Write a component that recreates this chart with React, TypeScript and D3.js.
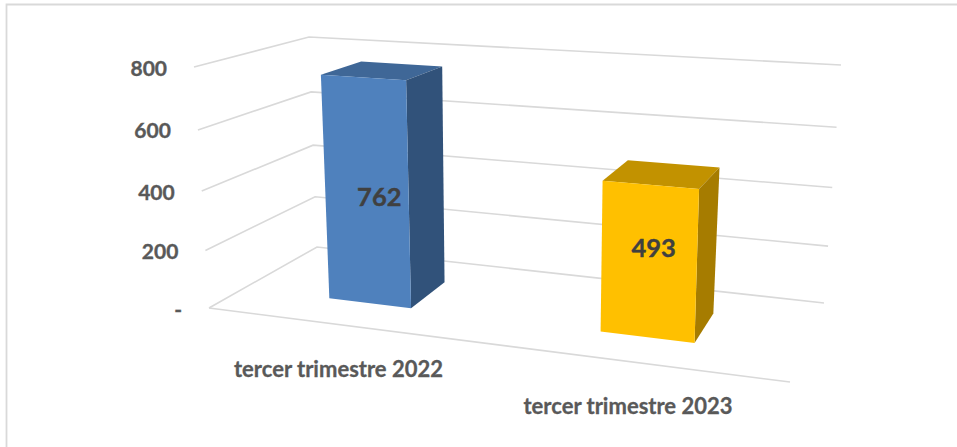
import React from "react";
import * as d3 from "d3";

const categories = ["tercer trimestre 2022", "tercer trimestre 2023"];
const seriesValues = [762, 493];
const tickValues = [0, 200, 400, 600, 800];
const tickLabels = ["-", "200", "400", "600", "800"];
const barFront = ["#4F81BD", "#FFC000"];
const barTop = ["#3F6797", "#C29200"];
const barSide = ["#31527A", "#A67C00"];

const W = 957, H = 447;
type P = [number, number];
const floorBox: P[] = [[209, 308], [790, 382], [824, 303], [317, 247]]; // front-left, front-right, back-right, back-left
const ceilBox: P[] = [[194, 67], [800, 109], [841, 65], [309, 37]];

const mix = (a: P, b: P, k: number): P => [a[0] + (b[0] - a[0]) * k, a[1] + (b[1] - a[1]) * k];
const warp = (t: number, a: number) => (a * t) / (a * t + 1 - t);
const valueScale = d3.scaleLinear().domain([0, 800]).range([0, 1]);

function project(u: number, d: number, v: number): P {
  const U = warp(u, 0.87);
  const T = warp(valueScale(v), 0.942);
  const low = mix(mix(floorBox[0], floorBox[1], U), mix(floorBox[3], floorBox[2], U), d);
  const high = mix(mix(ceilBox[0], ceilBox[1], U), mix(ceilBox[3], ceilBox[2], U), d);
  return mix(low, high, T);
}

const band = d3.scaleBand<string>().domain(categories).range([0, 1]).paddingInner(0.684).paddingOuter(0.342);
const D0 = 0.33, D1 = 0.72;
const labelAnchor = [330, 250];
const poly = (pts: P[]) => d3.line()(pts) + "Z";
const FONT = "Lato, 'Open Sans', sans-serif";

export default function App() {
  return (
    <svg width={W} height={H} style={{ position: "absolute", left: 0, top: 0, background: "#fff" }}>
      <path d={`M6.5,${H}V4.5H${W}`} fill="none" stroke="#D9D9D9" strokeWidth={1.8} />
      {tickValues.map((v, i) => {
        const a = project(0, 0, v), b = project(0, 1, v), c = project(1, 1, v);
        return (
          <g key={v}>
            <path d={d3.line()([a, b, c])!} fill="none" stroke="#D9D9D9" strokeWidth={1.6} />
            <text x={a[0] - 27} y={a[1] + 8.5} textAnchor="end" fontFamily={FONT} fontWeight={700} fontSize={21} fill="#595959" stroke="#595959" strokeWidth={0.35}>
              {tickLabels[i]}
            </text>
          </g>
        );
      })}
      <path d={d3.line()([project(0, 0, 0), project(1, 0, 0)])!} fill="none" stroke="#D9D9D9" strokeWidth={1.6} />
      {categories.map((c, i) => {
        const u0 = band(c)!, u1 = u0 + band.bandwidth(), v = seriesValues[i];
        const uMid = (u0 + u1) / 2;
        const lab = project(uMid, (D0 + D1) / 2, labelAnchor[i]);
        return (
          <g key={c}>
            <path d={poly([project(u0, D0, v), project(u1, D0, v), project(u1, D1, v), project(u0, D1, v)])} fill={barTop[i]} />
            <path d={poly([project(u1, D0, 0), project(u1, D1, 0), project(u1, D1, v), project(u1, D0, v)])} fill={barSide[i]} />
            <path d={poly([project(u0, D0, 0), project(u1, D0, 0), project(u1, D0, v), project(u0, D0, v)])} fill={barFront[i]} />
            <text x={lab[0] - 6} y={lab[1] + 8} textAnchor="middle" fontFamily={FONT} fontWeight={700} fontSize={25.5} fill="#404040" stroke="#404040" strokeWidth={0.4}>
              {v}
            </text>
          </g>
        );
      })}
      <text x={338.5} y={377} textAnchor="middle" fontFamily={FONT} fontWeight={700} fontSize={22} fill="#595959" stroke="#595959" strokeWidth={0.3}>{categories[0]}</text>
      <text x={628} y={414} textAnchor="middle" fontFamily={FONT} fontWeight={700} fontSize={22} fill="#595959" stroke="#595959" strokeWidth={0.3}>{categories[1]}</text>
    </svg>
  );
}
